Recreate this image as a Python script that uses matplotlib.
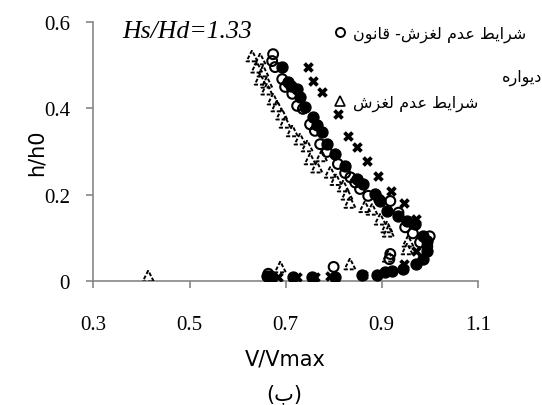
import matplotlib
matplotlib.use('Agg')
import matplotlib.pyplot as plt
from matplotlib.lines import Line2D

# presentation forms: isolated, final, initial, medial
FORMS = {
    'ا': ('\uFE8D', '\uFE8E', None, None),
    'ب': ('\uFE8F', '\uFE90', '\uFE91', '\uFE92'),
    'د': ('\uFEA9', '\uFEAA', None, None),
    'ر': ('\uFEAD', '\uFEAE', None, None),
    'ز': ('\uFEAF', '\uFEB0', None, None),
    'ش': ('\uFEB5', '\uFEB6', '\uFEB7', '\uFEB8'),
    'ط': ('\uFEC1', '\uFEC2', '\uFEC3', '\uFEC4'),
    'ع': ('\uFEC9', '\uFECA', '\uFECB', '\uFECC'),
    'غ': ('\uFECD', '\uFECE', '\uFECF', '\uFED0'),
    'ق': ('\uFED5', '\uFED6', '\uFED7', '\uFED8'),
    'ل': ('\uFEDD', '\uFEDE', '\uFEDF', '\uFEE0'),
    'م': ('\uFEE1', '\uFEE2', '\uFEE3', '\uFEE4'),
    'ن': ('\uFEE5', '\uFEE6', '\uFEE7', '\uFEE8'),
    'ه': ('\uFEE9', '\uFEEA', '\uFEEB', '\uFEEC'),
    'و': ('\uFEED', '\uFEEE', None, None),
    'ی': ('\uFBFC', '\uFBFD', '\uFBFE', '\uFBFF'),
}
MIRROR = {'(': ')', ')': '('}


def farsi(s):
    # crude shaping + reversal so matplotlib draws it right to left
    out = []
    for i, c in enumerate(s):
        if c not in FORMS:
            out.append(c)
            continue
        prev = s[i - 1] if i > 0 else ''
        nxt = s[i + 1] if i + 1 < len(s) else ''
        join_prev = prev in FORMS and FORMS[prev][2] is not None
        join_next = nxt in FORMS and FORMS[c][2] is not None
        f = FORMS[c]
        if join_prev and join_next:
            out.append(f[3])
        elif join_prev:
            out.append(f[1])
        elif join_next:
            out.append(f[2])
        else:
            out.append(f[0])
    return ''.join(MIRROR.get(c, c) for c in reversed(out))


# no-slip + wall law (open circles)
v_open = [0.674, 0.672, 0.678, 0.693, 0.699, 0.714, 0.724, 0.736, 0.751, 0.761,
          0.772, 0.786, 0.809, 0.824, 0.835, 0.845, 0.855, 0.872, 0.895, 0.918,
          0.935, 0.949, 0.965, 0.980, 1.000, 0.995, 0.918, 0.916, 0.800, 0.664,
          0.670]
h_open = [0.526, 0.510, 0.496, 0.468, 0.450, 0.434, 0.406, 0.399, 0.363, 0.348,
          0.317, 0.299, 0.271, 0.250, 0.240, 0.228, 0.213, 0.197, 0.188, 0.185,
          0.158, 0.124, 0.110, 0.089, 0.103, 0.080, 0.062, 0.050, 0.032, 0.016,
          0.010]

# measured (filled circles)
v_fill = [0.693, 0.705, 0.712, 0.724, 0.730, 0.740, 0.757, 0.766, 0.776, 0.786,
          0.803, 0.824, 0.849, 0.862, 0.886, 0.897, 0.911, 0.934, 0.953, 0.970,
          0.986, 0.995, 0.995, 0.986, 0.972, 0.945, 0.922, 0.907, 0.890, 0.860,
          0.803, 0.755, 0.716, 0.661, 0.668]
h_fill = [0.496, 0.461, 0.452, 0.445, 0.426, 0.403, 0.380, 0.362, 0.345, 0.317,
          0.294, 0.266, 0.236, 0.224, 0.201, 0.185, 0.161, 0.150, 0.139, 0.132,
          0.104, 0.092, 0.069, 0.050, 0.039, 0.027, 0.023, 0.020, 0.013, 0.013,
          0.008, 0.009, 0.009, 0.011, 0.006]

# no-slip (dashed triangles)
v_tri = [0.630, 0.647, 0.640, 0.653, 0.647, 0.661, 0.661, 0.674, 0.682, 0.692,
         0.699, 0.714, 0.730, 0.745, 0.751, 0.765, 0.775, 0.793, 0.805, 0.820,
         0.828, 0.834, 0.865, 0.880, 0.897, 0.911, 0.914, 0.955, 0.953, 0.914,
         0.834, 0.689, 0.414]
h_tri = [0.522, 0.515, 0.496, 0.487, 0.468, 0.461, 0.445, 0.422, 0.406, 0.387,
         0.368, 0.348, 0.329, 0.313, 0.283, 0.264, 0.290, 0.252, 0.235, 0.220,
         0.201, 0.182, 0.172, 0.166, 0.143, 0.125, 0.115, 0.092, 0.074, 0.057,
         0.039, 0.032, 0.011]

# crosses
v_x = [0.747, 0.757, 0.776, 0.809, 0.830, 0.849, 0.870, 0.893, 0.920, 0.947,
       0.972, 0.972, 0.947, 0.861, 0.793, 0.761, 0.724, 0.685]
h_x = [0.496, 0.464, 0.438, 0.387, 0.336, 0.310, 0.278, 0.243, 0.208, 0.180,
       0.143, 0.069, 0.039, 0.013, 0.011, 0.009, 0.009, 0.009]

x_ticks = [0.3, 0.5, 0.7, 0.9, 1.1]
y_ticks = [0, 0.2, 0.4, 0.6]

label_wall = 'شرایط عدم لغزش- قانون'
label_wall2 = 'دیواره'
label_noslip = 'شرایط عدم لغزش'
caption = '(ب)'

grey = '#868686'

fig = plt.figure(figsize=(5.42, 4.06), dpi=100)
ax = fig.add_axes([0.1725, 0.3062, 0.7089, 0.6364])

ax.scatter(v_tri, h_tri, s=62, marker='^', facecolors='none', edgecolors='k',
           linewidths=1.4, linestyles=(0, (2.0, 1.0)), zorder=3)
ax.scatter(v_x, h_x, s=58, marker='X', color='k', linewidths=0, zorder=3)
ax.scatter(v_fill, h_fill, s=62, marker='o', color='k', zorder=3)
ax.scatter(v_open, h_open, s=50, marker='o', facecolors='none', edgecolors='k',
           linewidths=1.5, zorder=4)

ax.set_xlim(0.3, 1.1)
ax.set_ylim(0, 0.6)
ax.set_xticks(x_ticks)
ax.set_yticks(y_ticks)
ax.set_xticklabels([f'{t:g}' for t in x_ticks])
ax.set_yticklabels([f'{t:g}' for t in y_ticks])
for s in ('top', 'right'):
    ax.spines[s].set_visible(False)
for s in ('left', 'bottom'):
    ax.spines[s].set_color(grey)
    ax.spines[s].set_linewidth(1.2)
ax.tick_params(axis='both', direction='out', length=5, width=1.2, color=grey,
               labelsize=15)
ax.tick_params(axis='x', pad=20)
ax.tick_params(axis='y', pad=12)
for lbl in ax.get_xticklabels() + ax.get_yticklabels():
    lbl.set_fontfamily('Liberation Serif')

ax.set_xlabel('V/Vmax', fontsize=15, labelpad=10)
ax.set_ylabel('h/h0', fontsize=15, labelpad=-2)

ax.text(0.075, 0.965, 'Hs/Hd=1.33', transform=ax.transAxes, fontsize=18.5,
        family='Liberation Serif', style='italic', va='center')

handles = [Line2D([], [], ls='none', marker='o', ms=6.5, mfc='none', mec='k', mew=1.4),
           Line2D([], [], ls='none', marker='^', ms=7.5, mfc='none', mec='k', mew=1.2)]
leg = fig.legend(handles, [farsi(label_wall), farsi(label_noslip)],
                 loc='upper left', bbox_to_anchor=(0.595, 0.965), frameon=False,
                 handlelength=0.6, handletextpad=0.5, labelspacing=3.3,
                 borderpad=0.3, prop={'family': 'DejaVu Sans', 'size': 11.5})
fig.text(1.0, 0.808, farsi(label_wall2), fontsize=11.5, family='DejaVu Sans',
         ha='right', va='center')

fig.text(0.525, 0.03, farsi(caption), fontsize=15, family='DejaVu Sans',
         ha='center', va='center')

fig.savefig('out.png', dpi=100)
